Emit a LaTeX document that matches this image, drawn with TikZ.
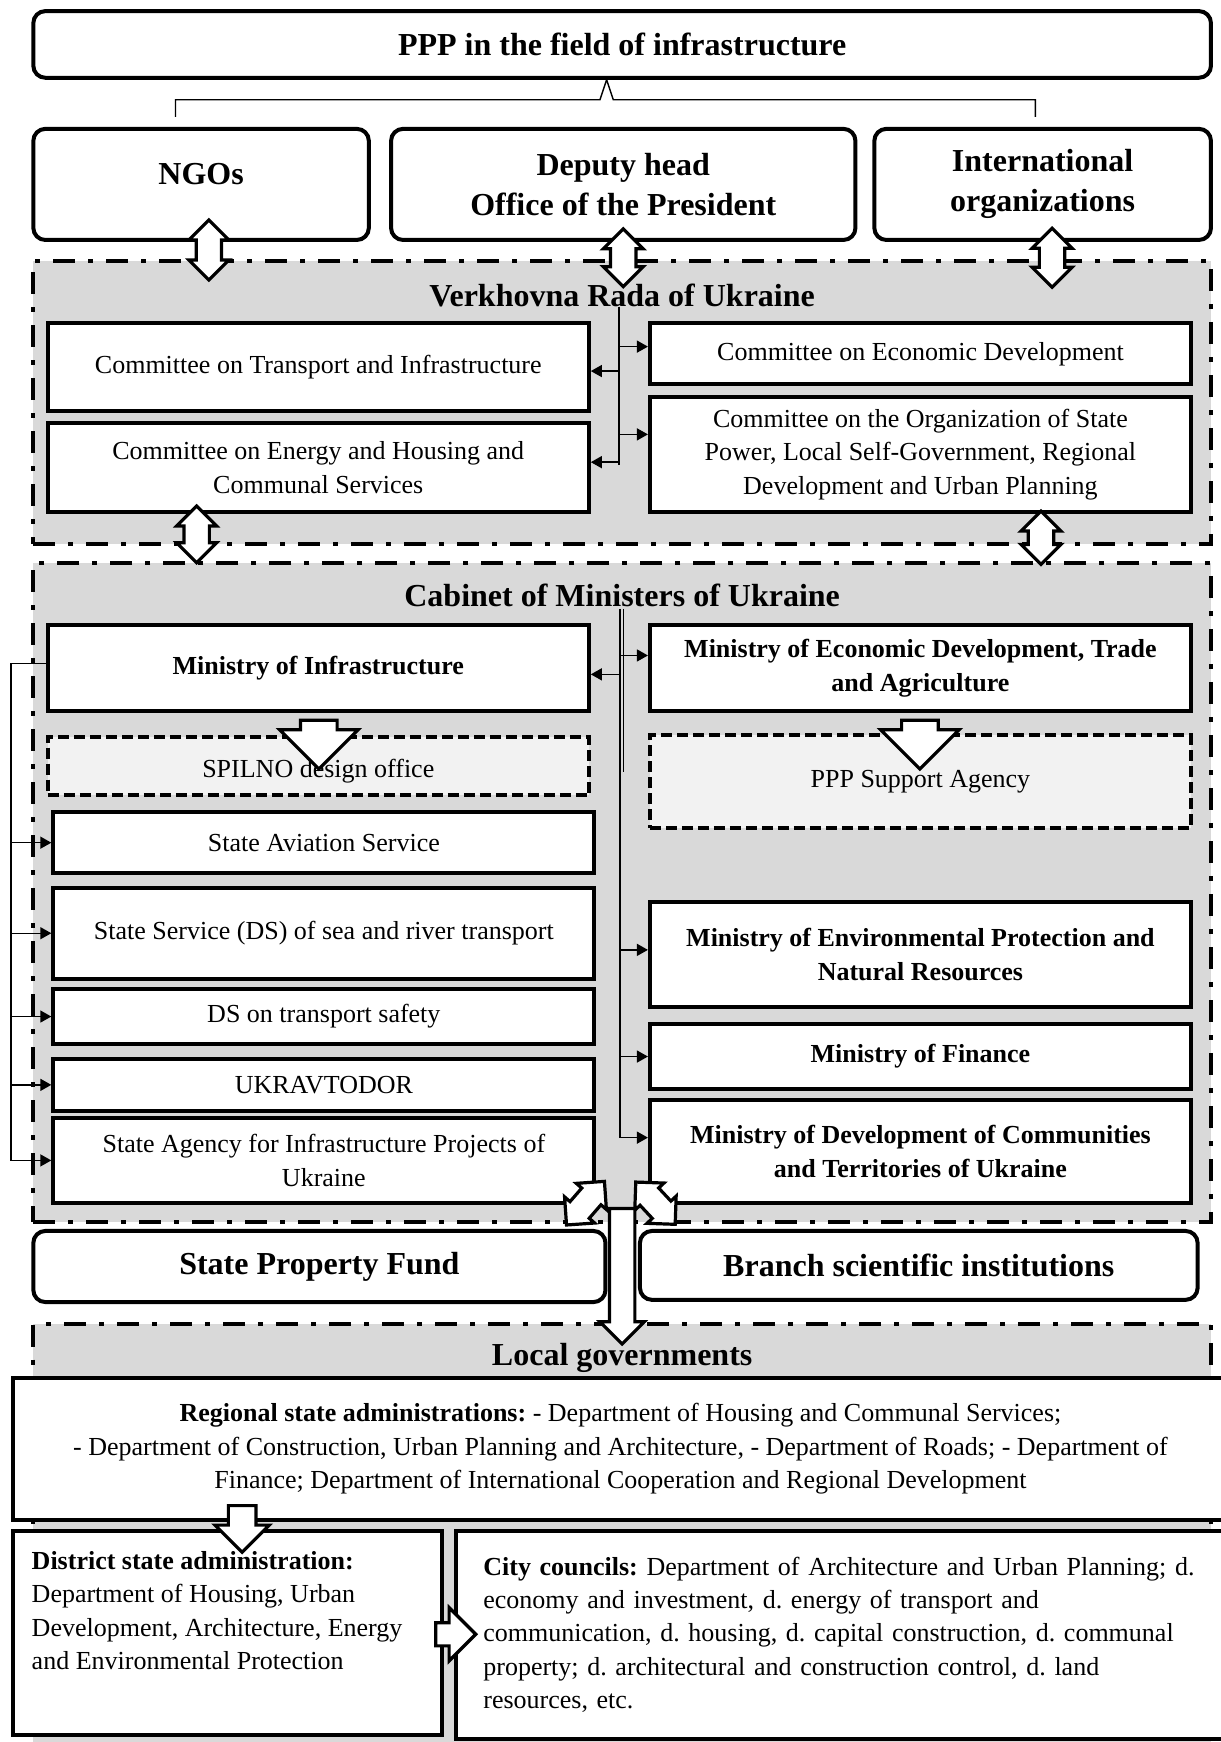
\documentclass[tikz,border=0pt]{standalone}
\usepackage{fontspec}
\setmainfont{Liberation Serif}
\usetikzlibrary{shapes.arrows,arrows.meta,calc}
\frenchspacing

\begin{document}
\begin{tikzpicture}[x=0.5555pt, y=-0.5555pt,
		sz/.style 2 args={minimum width=#1*0.5555pt, minimum height=#2*0.5555pt},
		bodyf/.style={font=\fontsize{13}{16.7}\selectfont, align=center},
		boldf/.style={font=\fontsize{13}{16.7}\selectfont\bfseries, align=center},
		titlef/.style={font=\fontsize{16}{20}\selectfont\bfseries, align=center},
		rbox/.style={draw, line width=2pt, rounded corners=6pt, fill=white, inner sep=0pt, titlef},
		sbox/.style={draw, line width=2pt, fill=white, inner sep=0pt, bodyf},
		mbox/.style={sbox, boldf},
		dbox/.style={sbox, fill=gray!10, dash pattern=on 5.5pt off 2.5pt},
		panel/.style={draw, line width=2pt, fill=gray!30, inner sep=0pt, dash pattern=on 11pt off 6.5pt on 2.5pt off 6.5pt},
		blk/.style={draw, fill=white, line width=1.6pt, inner xsep=0pt, minimum width=0pt},
		dblarr/.style={blk, double arrow, minimum height=#1*0.5555pt, inner ysep=10*0.5555pt, double arrow head extend=6.5*0.5555pt},
		vdblarr/.style={dblarr=#1, rotate=90},
		sarr/.style={blk, single arrow, minimum height=#1*0.5555pt, inner ysep=15*0.5555pt, single arrow head extend=19*0.5555pt},
		dnarr/.style={sarr=#1, rotate=-90},
		link/.style={line width=0.7pt},
		conn/.style={link, -{Triangle[length=5.5pt,width=6pt]}}
	]
	\useasboundingbox (0,0) rectangle (1099,1568);
	\node[rbox, sz={1060}{60}] (top) at (560,40) {PPP in the field of infrastructure};
	\node[rbox, sz={302}{100}, text height=0pt, text depth=0pt] (ngo) at (181,166) {NGOs};
	\node[rbox, sz={418}{100}] (dep) at (561,166) {Deputy head\\Office of the President};
	\node[rbox, sz={303}{100}] (intl) at (938.5,166) {International\\organizations};
	\coordinate (tip) at ([shift={(-14,0)}]top.south);
	\draw[link] ([shift={(-23,-9)}]ngo.north) |- ($(tip)+(-6,18)$) -- (tip) -- ($(tip)+(6,18)$) -| ([shift={(-6.5,-9)}]intl.north);

	\node[panel, sz={1060}{255}] (rada) at (560,362.5) {};
	\node[panel, sz={1060}{593}] (cab) at (560,803.5) {};
	\node[panel, sz={1060}{408}] (loc) at (560,1396) {};
	\node[titlef] (radat) at (560,266) {Verkhovna Rada of Ukraine};
	\node[titlef] (cabt) at (560,536) {Cabinet of Ministers of Ukraine};
	\node[titlef] (loct) at (560,1222) {Local governments};

	\node[sbox, sz={487}{79}] (trans) at (286.5,330.5) {Committee on Transport and Infrastructure};
	\node[sbox, sz={487}{80}] (energy) at (286.5,421) {Committee on Energy and Housing and\\Communal Services};
	\node[sbox, sz={487}{55}] (ced) at (828.5,318.5) {Committee on Economic Development};
	\node[sbox, sz={487}{104}] (org) at (828.5,409) {Committee on the Organization of State\\Power, Local Self-Government, Regional\\Development and Urban Planning};

	\node[mbox, sz={487}{77}] (minf) at (286.5,601.5) {Ministry of Infrastructure};
	\node[dbox, sz={487}{53}, text height=11.6pt, text depth=0pt] (spil) at (286.5,689.5) {SPILNO design office};
	\node[sbox, sz={487}{55}] (avia) at (291.5,758.5) {State Aviation Service};
	\node[sbox, sz={487}{82}] (sea) at (291.5,840) {State Service (DS) of sea and river transport};
	\node[sbox, sz={487}{50}] (safe) at (291.5,915) {DS on transport safety};
	\node[sbox, sz={487}{47}] (ukr) at (291.5,976.5) {UKRAVTODOR};
	\node[sbox, sz={487}{77}] (saip) at (291.5,1044.5) {State Agency for Infrastructure Projects of\\Ukraine};
	\node[mbox, sz={487}{77}] (mecon) at (828.5,601.5) {Ministry of Economic Development, Trade\\and Agriculture};
	\node[dbox, sz={487}{83}] (pppa) at (828.5,703.5) {PPP Support Agency};
	\node[mbox, sz={487}{94}] (menv) at (828.5,859) {Ministry of Environmental Protection and\\Natural Resources};
	\node[mbox, sz={487}{58}] (mfin) at (828.5,951) {Ministry of Finance};
	\node[mbox, sz={487}{93}] (mdev) at (828.5,1036.5) {Ministry of Development of Communities\\and Territories of Ukraine};

	\node[rbox, sz={515}{64}] (spf) at (287.5,1140) {State Property Fund};
	\node[rbox, sz={502}{62}] (bsi) at (827,1139) {Branch scientific institutions};
	\node[sbox, sz={1093}{128}] (reg) at (558.5,1304) {\textbf{Regional state administrations:} - Department of Housing and Communal Services;\\- Department of Construction, Urban Planning and Architecture, - Department of Roads; - Department of\\Finance; Department of International Cooperation and Regional Development};
	\node[sbox, sz={386}{184}] (dist) at (205,1470) {};
	\node[bodyf, align=left, inner sep=0pt, anchor=north west] (distt) at ([shift={(18,20)}]dist.north west) {\textbf{District state administration:}\\Department of Housing, Urban\\Development, Architecture, Energy\\and Environmental Protection};
	\node[sbox, sz={700}{187}, text width=361pt, align=left] (city) at (760,1471.5) {\textbf{City councils:} Department of Architecture and Urban Planning; d.\\economy and investment, d. energy of transport and\\communication, d. housing, d. capital construction, d. communal\\property; d. architectural and construction control, d. land\\resources, etc.};

	\coordinate (rst) at (557,276);
	\draw[link] (rst) -- (rst |- 0,419);
	\draw[conn] (rst |- 0,312) -- (ced.west |- 0,312);
	\draw[conn] (rst |- 0,334) -- (trans.east |- 0,334);
	\draw[conn] (rst |- 0,391) -- (org.west |- 0,391);
	\draw[conn] (rst |- 0,416) -- (energy.east |- 0,416);

	\coordinate (cst) at (558,548);
	\draw[link] (cst) -- (cst |- 0,1024);
	\draw[link] ([shift={(3,0)}]cst) -- ++(0,147);
	\draw[conn] (cst |- 0,590) -- (mecon.west |- 0,590);
	\draw[conn] (cst |- 0,607) -- (minf.east |- 0,607);
	\foreach \n/\y in {menv/855, mfin/951, mdev/1024}
		\draw[conn] (cst |- 0,\y) -- (\n.west |- 0,\y);

	\coordinate (lb) at (10,597);
	\draw[conn] (minf.west |- lb) -- (lb) |- (saip.west);
	\foreach \n in {avia,sea,safe,ukr}
		\draw[conn] (lb |- \n.west) -- (\n.west);

	\node[vdblarr=54] (a1) at (188,225) {};
	\node[vdblarr=52] (a2) at (561,232) {};
	\node[vdblarr=53] (a3) at (947,232) {};
	\node[vdblarr=51] (a4) at (177,481) {};
	\node[vdblarr=48] (a5) at (937,484) {};
	\node[dnarr=44] (a6) at (287,662) {};
	\node[dnarr=44] (a7) at (828,662) {};
	\node[dblarr=52, rotate=49] (a8) at (527,1083) {};
	\node[dblarr=52, rotate=-47] (a9) at (590,1083) {};
	\node[dnarr=122, inner ysep=10*0.5555pt, single arrow head extend=8.5*0.5555pt] (a10) at (560,1143) {};
	\node[dnarr=42, inner ysep=11*0.5555pt, single arrow head extend=12*0.5555pt] (a11) at (218,1370) {};
	\node[sarr=36, inner ysep=9*0.5555pt, single arrow head extend=13.5*0.5555pt] (a12) at (405,1471) {};
\end{tikzpicture}
\end{document}
